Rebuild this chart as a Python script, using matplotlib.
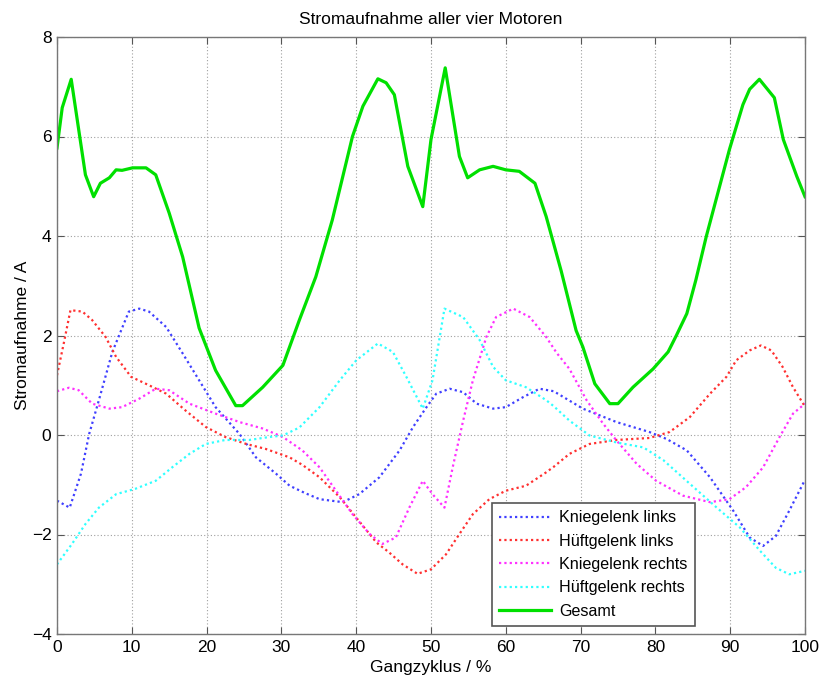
import matplotlib
matplotlib.use("Agg")
import matplotlib.pyplot as plt

plt.rcParams['font.family'] = ['Liberation Sans', 'DejaVu Sans']

# Gesamt (total)
x_ges = [0, 0.7, 1.9, 3.8, 4.9, 5.8, 7.0, 7.9, 8.7, 10.1, 11.9, 13.2, 15, 16.8, 19, 21.2,
         23.9, 24.8, 27.5, 30.2, 32.4, 34.6, 36.8, 39.5, 40.9, 42.9, 44, 45.1, 46.9, 48.9,
         50, 51.9, 53.8, 54.9, 56.5, 58.3, 60, 61.8, 63.9, 65.4, 67.4, 69.4, 70.3, 71.9,
         73.9, 75, 77, 79.7, 81.7, 82.8, 84.2, 85.4, 86.8, 89.9, 91.7, 92.6, 93.9, 95.9,
         97.1, 98.9, 100]
y_ges = [5.77, 6.58, 7.15, 5.23, 4.79, 5.06, 5.17, 5.33, 5.32, 5.37, 5.37, 5.23, 4.46, 3.58,
         2.15, 1.3, 0.59, 0.59, 0.96, 1.4, 2.31, 3.18, 4.32, 6.0, 6.61, 7.16, 7.08, 6.84,
         5.4, 4.59, 5.94, 7.38, 5.6, 5.17, 5.33, 5.4, 5.33, 5.3, 5.06, 4.39, 3.3, 2.1, 1.77,
         1.03, 0.63, 0.63, 0.96, 1.33, 1.67, 2.0, 2.44, 3.11, 3.99, 5.74, 6.64, 6.95, 7.15,
         6.78, 5.94, 5.2, 4.79]

# Kniegelenk links
x_kl = [0, 1.7, 3.2, 4.3, 5.6, 7.4, 9.6, 11.0, 12.3, 14.6, 16.8, 19, 21.2, 24.4, 26.6, 29.3,
        31.1, 33.2, 35.1, 38.2, 40.4, 43.1, 45.8, 47.6, 49.4, 50.7, 52.5, 54.3, 56.1, 58.3,
        60, 62.3, 64.5, 66.4, 70.3, 74.8, 79.2, 81.5, 84.2, 87.3, 90.4, 92.6, 94.4, 96.1,
        97.9, 100]
y_kl = [-1.32, -1.46, -0.78, 0.02, 0.70, 1.67, 2.48, 2.54, 2.48, 2.17, 1.64, 1.10, 0.56, 0.02,
        -0.45, -0.78, -1.02, -1.17, -1.29, -1.35, -1.19, -0.85, -0.31, 0.16, 0.56, 0.83,
        0.93, 0.86, 0.63, 0.53, 0.56, 0.76, 0.93, 0.88, 0.53, 0.26, 0.06, -0.08, -0.31,
        -0.85, -1.52, -2.06, -2.23, -2.03, -1.52, -0.90]

# Hüftgelenk links
x_hl = [0, 0.9, 1.8, 3.4, 4.7, 6.5, 7.9, 9.9, 12.3, 14.6, 17.2, 19.9, 22.5, 25.3, 27.9, 31.1,
        32.8, 35.1, 37.8, 40, 42.7, 44.4, 46.2, 48.2, 50, 52, 53.8, 55.6, 57.8, 60, 62.7,
        65.4, 66.4, 68.5, 71.2, 74.8, 79.2, 81.9, 84.6, 87.3, 89.5, 90.8, 92.6, 94.1, 95.5,
        97, 98.4, 100]
y_hl = [1.2, 1.84, 2.51, 2.48, 2.31, 1.97, 1.57, 1.17, 1.0, 0.83, 0.49, 0.16, -0.04, -0.18,
        -0.28, -0.45, -0.6, -0.85, -1.25, -1.66, -2.16, -2.36, -2.6, -2.79, -2.70, -2.40,
        -1.99, -1.59, -1.29, -1.12, -1.02, -0.75, -0.64, -0.38, -0.18, -0.10, -0.06, 0.06,
        0.36, 0.83, 1.17, 1.5, 1.70, 1.80, 1.70, 1.37, 0.96, 0.57]

# Kniegelenk rechts
x_kr = [0, 1.6, 2.9, 4.7, 7.0, 8.7, 11, 13.2, 15, 17.7, 21.2, 24.4, 27.5, 30.2, 32.8, 35.1,
        37.3, 39.5, 41.8, 43.5, 45.3, 47.1, 48.9, 50.2, 51.8, 52.9, 54.3, 55.6, 57.4, 58.7,
        61, 63.2, 65.4, 66.8, 68.5, 70.8, 73, 74.8, 77.5, 80.1, 83.7, 87.3, 89.9, 92.1,
        94.4, 96.6, 98.4, 100]
y_kr = [0.88, 0.95, 0.90, 0.63, 0.53, 0.56, 0.73, 0.93, 0.90, 0.63, 0.43, 0.26, 0.13, -0.04,
        -0.31, -0.65, -1.12, -1.59, -1.99, -2.19, -2.06, -1.46, -0.92, -1.19, -1.46, -0.65,
        0.29, 1.10, 1.97, 2.37, 2.54, 2.37, 1.97, 1.65, 1.33, 0.70, 0.23, -0.11, -0.58,
        -0.92, -1.22, -1.35, -1.29, -1.05, -0.65, -0.04, 0.43, 0.63]

# Hüftgelenk rechts
x_hr = [0, 2, 3.8, 5.6, 7.9, 10.5, 13.2, 15.4, 17.7, 19.9, 22.5, 25.7, 28.4, 30.2, 32.4,
        35.1, 37.8, 40, 42.9, 44.9, 46.7, 48.9, 50.2, 51.8, 54.3, 56.5, 58.3, 60, 62.7,
        65.4, 66.4, 68.5, 71.2, 74.8, 78.4, 81.1, 84.6, 88.2, 91.3, 94, 96.1, 97.9, 100]
y_hr = [-2.6, -2.19, -1.79, -1.46, -1.19, -1.08, -0.92, -0.65, -0.38, -0.18, -0.10, -0.10,
        -0.04, -0.01, 0.15, 0.56, 1.10, 1.50, 1.84, 1.67, 1.17, 0.53, 1.10, 2.54, 2.37,
        1.91, 1.37, 1.10, 0.96, 0.70, 0.58, 0.29, -0.01, -0.15, -0.25, -0.51, -0.98, -1.46,
        -1.86, -2.33, -2.67, -2.80, -2.73]

labels = ['Kniegelenk links', 'Hüftgelenk links', 'Kniegelenk rechts',
          'Hüftgelenk rechts', 'Gesamt']
x_ticks = [0, 10, 20, 30, 40, 50, 60, 70, 80, 90, 100]
y_ticks = [-4, -2, 0, 2, 4, 6, 8]

fig = plt.figure(figsize=(8.21, 6.84), dpi=100)
ax = fig.add_axes([57 / 821, 1 - 634 / 684, 748 / 821, 597 / 684])

dot = (0, (1, 1.4))
ax.plot(x_kl, y_kl, color='#4040ff', ls=dot, lw=1.6, label=labels[0])
ax.plot(x_hl, y_hl, color='#ff3030', ls=dot, lw=1.6, label=labels[1])
ax.plot(x_kr, y_kr, color='#ff30ff', ls=dot, lw=1.6, label=labels[2])
ax.plot(x_hr, y_hr, color='#30ffff', ls=dot, lw=1.6, label=labels[3])
ax.plot(x_ges, y_ges, color='#00e000', ls='-', lw=2.3, label=labels[4])

ax.set_xlim(0, 100)
ax.set_ylim(-4, 8)
ax.set_xticks(x_ticks)
ax.set_yticks(y_ticks)
ax.tick_params(direction='in', top=True, right=True, length=5, labelsize=12.5,
               color='#555555', pad=4)
for s in ax.spines.values():
    s.set_color('#777777')
    s.set_linewidth(1.0)
ax.grid(True, color='#a0a0a0', ls=(0, (1, 2)), lw=0.8)

ax.set_title('Stromaufnahme aller vier Motoren', fontsize=12.5, pad=9)
ax.set_xlabel('Gangzyklus / %', fontsize=12.5, labelpad=4)
ax.set_ylabel('Stromaufnahme / A', fontsize=12.5, labelpad=1)

leg = ax.legend(loc='lower left', bbox_to_anchor=(0.5816, 0.0134), borderaxespad=0,
                fancybox=False, framealpha=1, edgecolor='#555555', fontsize=11.6,
                handlelength=3.2, labelspacing=0.52, handletextpad=0.5, borderpad=0.45)
leg.get_frame().set_linewidth(1.2)

fig.savefig('out.png', dpi=100)
